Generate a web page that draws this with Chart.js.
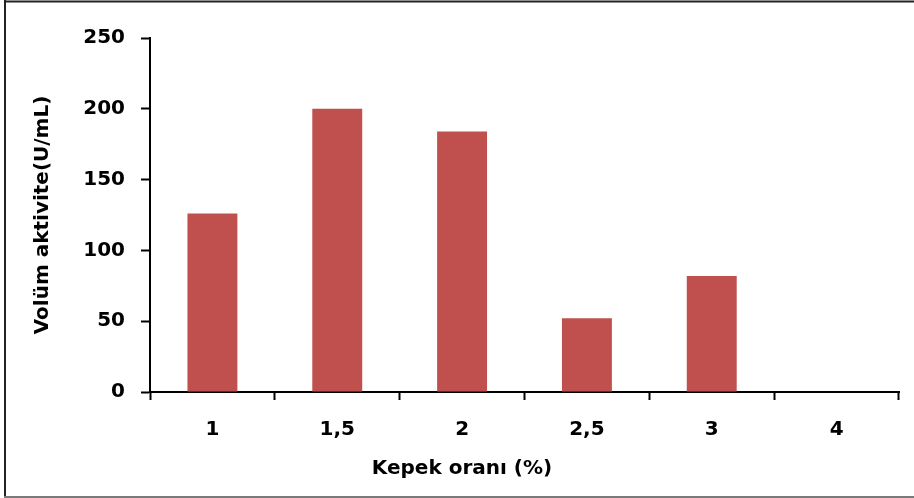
<!DOCTYPE html>
<html>
<head>
<meta charset="utf-8">
<script src="https://cdn.jsdelivr.net/npm/chart.js@4/dist/chart.umd.min.js"></script>
<style>
  html, body { margin: 0; padding: 0; background: #ffffff; }
  #wrap { width: 914px; height: 498px; position: relative; }
</style>
</head>
<body>
<div id="wrap"><canvas id="c" width="914" height="498"></canvas></div>
<script>
// Bran ratio (%) and the volumetric activity measured at each ratio
const categories = ['1', '1,5', '2', '2,5', '3', '4'];
const activity = [126, 200, 184, 52, 82, 0];
const yTicks = [0, 50, 100, 150, 200, 250];
const xTitle = 'Kepek oranı (%)';
const yTitle = 'Volüm aktivite(U/mL)';

const FONT = 'DejaVu Sans';

// White background, the frame edges, and the x-axis caption centred on the figure
const framePlugin = {
  id: 'frame',
  beforeDraw(chart) {
    const ctx = chart.ctx;
    ctx.save();
    ctx.fillStyle = '#ffffff';
    ctx.fillRect(0, 0, chart.width, chart.height);
    ctx.restore();
  },
  afterDraw(chart) {
    const ctx = chart.ctx;
    ctx.save();
    ctx.lineWidth = 2;
    ctx.strokeStyle = '#222222';
    ctx.beginPath();
    ctx.moveTo(4, 1.5); ctx.lineTo(chart.width, 1.5);
    ctx.moveTo(5, 0); ctx.lineTo(5, chart.height);
    ctx.stroke();
    ctx.strokeStyle = '#7a7a7a';
    ctx.beginPath();
    ctx.moveTo(4, 497); ctx.lineTo(chart.width, 497);
    ctx.stroke();

    ctx.fillStyle = '#000000';
    ctx.font = 'bold 20px "' + FONT + '"';
    ctx.textAlign = 'center';
    ctx.textBaseline = 'middle';
    ctx.fillText(xTitle, 462, 469);
    ctx.restore();
  }
};

new Chart(document.getElementById('c'), {
  type: 'bar',
  data: {
    labels: categories,
    datasets: [{
      data: activity,
      backgroundColor: '#C0504D',
      borderWidth: 0,
      barPercentage: 0.4,
      categoryPercentage: 1.0
    }]
  },
  options: {
    responsive: false,
    animation: false,
    devicePixelRatio: 1,
    layout: { padding: { left: 0, top: 38, right: 15, bottom: 0 } },
    plugins: {
      legend: { display: false },
      tooltip: { enabled: false }
    },
    scales: {
      x: {
        offset: true,
        grid: {
          offset: true,
          drawOnChartArea: false,
          drawTicks: true,
          tickLength: 8,
          tickWidth: 2,
          tickColor: '#000000'
        },
        border: { display: true, color: '#000000', width: 2 },
        ticks: {
          color: '#000000',
          padding: 18,
          font: { family: FONT, size: 20, weight: 'bold' }
        },
        afterFit(scale) { scale.height = 106; }
      },
      y: {
        min: 0,
        max: 250,
        afterBuildTicks(scale) { scale.ticks = yTicks.map(v => ({ value: v })); },
        grid: {
          drawOnChartArea: false,
          drawTicks: true,
          tickLength: 9,
          tickWidth: 2,
          tickColor: '#000000'
        },
        border: { display: true, color: '#000000', width: 2 },
        ticks: {
          color: '#000000',
          padding: 16,
          font: { family: FONT, size: 20, weight: 'bold' }
        },
        title: {
          display: true,
          text: yTitle,
          color: '#000000',
          font: { family: FONT, size: 20, weight: 'bold' },
          padding: { top: 31, bottom: 0 }
        },
        afterFit(scale) { scale.width = 150; }
      }
    }
  },
  plugins: [framePlugin]
});
</script>
</body>
</html>
